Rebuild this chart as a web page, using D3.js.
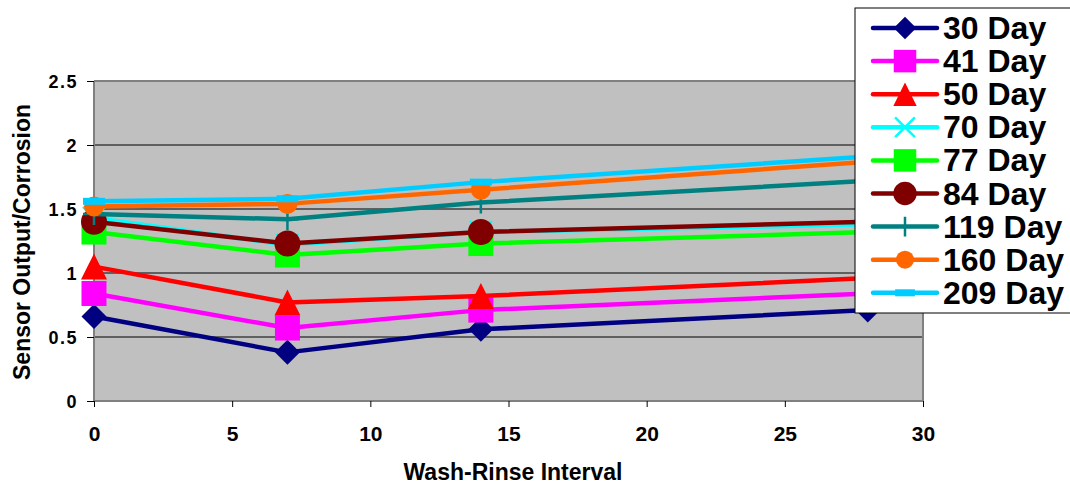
<!DOCTYPE html>
<html>
<head>
<meta charset="utf-8">
<script src="https://cdn.jsdelivr.net/npm/d3@7"></script>
<style>
  body { margin: 0; background: #fff; }
  svg text { font-family: "Liberation Sans", Arial, sans-serif; font-weight: bold; fill: #000; }
</style>
</head>
<body>
<svg id="chart" width="1070" height="485"></svg>
<script>
// wash-rinse intervals (x) and one array per exposure series
var intervals = [0, 7, 14, 28];
var seriesNames = ["30 Day", "41 Day", "50 Day", "70 Day", "77 Day", "84 Day", "119 Day", "160 Day", "209 Day"];
var day30  = [0.66, 0.38, 0.56, 0.71];
var day41  = [0.84, 0.57, 0.71, 0.84];
var day50  = [1.05, 0.77, 0.82, 0.96];
var day70  = [1.43, 1.22, 1.32, 1.38];
var day77  = [1.32, 1.14, 1.23, 1.32];
var day84  = [1.40, 1.23, 1.32, 1.40];
var day119 = [1.46, 1.42, 1.55, 1.72];
var day160 = [1.52, 1.54, 1.65, 1.87];
var day209 = [1.56, 1.58, 1.71, 1.91];
var xTicks = [0, 5, 10, 15, 20, 25, 30];
var yTicks = [0, 0.5, 1, 1.5, 2, 2.5];

var seriesValues = [day30, day41, day50, day70, day77, day84, day119, day160, day209];
var colors = ["#000080", "#FF00FF", "#FF0000", "#00FFFF", "#00FF00", "#800000", "#008080", "#FF6600", "#00CCFF"];
var markers = ["diamond", "square", "triangle", "x", "square", "circle", "plus", "circleSmall", "dash"];

var svg = d3.select("#chart"),
    margin = {top: 81, right: 147, bottom: 84, left: 94},
    width = +svg.attr("width") - margin.left - margin.right,
    height = +svg.attr("height") - margin.top - margin.bottom;

var x = d3.scaleLinear().domain([0, 30]).range([0, width]);
var y = d3.scaleLinear().domain([0, 2.5]).range([height, 0]);

var g = svg.append("g")
    .attr("transform", "translate(" + margin.left + "," + margin.top + ")");

g.append("rect")
    .attr("width", width)
    .attr("height", height)
    .attr("fill", "#C0C0C0");

// gridlines
g.selectAll("line.grid")
    .data(yTicks.slice(1))
  .enter().append("line")
    .attr("class", "grid")
    .attr("x1", 0).attr("x2", width)
    .attr("y1", function(d) { return y(d); })
    .attr("y2", function(d) { return y(d); })
    .attr("stroke", "#000").attr("stroke-width", 1);

// plot border (right/top)
g.append("path")
    .attr("d", "M0,0H" + width + "V" + height)
    .attr("fill", "none").attr("stroke", "#808080").attr("stroke-width", 2);

// axes
var yAxis = g.append("g")
    .call(d3.axisLeft(y).tickValues(yTicks).tickSize(7).tickPadding(9).tickFormat(d3.format("")));
var xAxis = g.append("g")
    .attr("transform", "translate(0," + height + ")")
    .call(d3.axisBottom(x).tickValues(xTicks).tickSize(6).tickPadding(20));

yAxis.select(".domain").attr("stroke", "#808080").attr("stroke-width", 2).attr("d", "M0,0V" + height);
xAxis.select(".domain").attr("stroke", "#808080").attr("stroke-width", 2).attr("d", "M0,0H" + width);
yAxis.selectAll(".tick line").attr("stroke", "#000");
xAxis.selectAll(".tick line").attr("stroke", "#000");
yAxis.selectAll(".tick text")
    .style("font-size", "18px").style("letter-spacing", "1.5px")
    .attr("dy", "0.36em");
xAxis.selectAll(".tick text")
    .style("font-size", "21px").attr("dy", "0.68em");

// axis titles
svg.append("text")
    .attr("x", 513).attr("y", 480)
    .attr("text-anchor", "middle")
    .style("font-size", "23px")
    .text("Wash-Rinse Interval");

svg.append("text")
    .attr("transform", "translate(30,242) rotate(-90)")
    .attr("text-anchor", "middle")
    .style("font-size", "23px")
    .text("Sensor Output/Corrosion");

function drawMarker(sel, type, color, k) {
  k = k || 1;
  if (type === "diamond") {
    var r = 12.5 * k;
    sel.append("path").attr("d", "M0," + (-r) + "L" + r + ",0L0," + r + "L" + (-r) + ",0Z").attr("fill", color);
  } else if (type === "square") {
    var s = 12.5 * k;
    sel.append("rect").attr("x", -s).attr("y", -s).attr("width", 2 * s).attr("height", 2 * s).attr("fill", color);
  } else if (type === "triangle") {
    var t = 13 * k;
    sel.append("path").attr("d", "M0," + (-t) + "L" + t + "," + t + "L" + (-t) + "," + t + "Z").attr("fill", color);
  } else if (type === "x") {
    var a = 11 * k;
    sel.append("path").attr("d", "M" + (-a) + "," + (-a) + "L" + a + "," + a + "M" + a + "," + (-a) + "L" + (-a) + "," + a)
      .attr("stroke", color).attr("stroke-width", 2.5);
  } else if (type === "circle") {
    sel.append("circle").attr("r", 13 * k).attr("fill", color);
  } else if (type === "circleSmall") {
    sel.append("circle").attr("r", 10 * k).attr("fill", color);
  } else if (type === "plus") {
    var p = 11 * k;
    sel.append("path").attr("d", "M0," + (-p) + "V" + p + "M" + (-p) + ",0H" + p)
      .attr("stroke", color).attr("stroke-width", 2.5);
  } else if (type === "dash") {
    sel.append("rect").attr("x", -11 * k).attr("y", -3.5).attr("width", 22 * k).attr("height", 7).attr("fill", color);
  }
}

var line = d3.line()
    .x(function(d, i) { return x(intervals[i]); })
    .y(function(d) { return y(d); });

seriesValues.forEach(function(vals, si) {
  var sg = g.append("g");
  sg.append("path")
      .datum(vals)
      .attr("d", line)
      .attr("fill", "none")
      .attr("stroke", colors[si])
      .attr("stroke-width", 4.5)
      .attr("stroke-linejoin", "round");
  vals.forEach(function(v, i) {
    var m = sg.append("g").attr("transform", "translate(" + x(intervals[i]) + "," + y(v) + ")");
    drawMarker(m, markers[si], colors[si], 1);
  });
});

// legend
var legend = svg.append("g").attr("transform", "translate(855,8)");
legend.append("rect")
    .attr("width", 218).attr("height", 305)
    .attr("fill", "#fff").attr("stroke", "#000").attr("stroke-width", 1);

seriesNames.forEach(function(name, i) {
  var row = legend.append("g").attr("transform", "translate(0," + (20 + i * 33.1) + ")");
  row.append("line")
      .attr("x1", 18).attr("x2", 82)
      .attr("stroke", colors[i]).attr("stroke-width", 4.5).attr("stroke-linecap", "round");
  var m = row.append("g").attr("transform", "translate(50,0)");
  drawMarker(m, markers[i], colors[i], 0.9);
  row.append("text")
      .attr("x", 88).attr("y", 11)
      .style("font-size", "32px")
      .text(name);
});
</script>
</body>
</html>
